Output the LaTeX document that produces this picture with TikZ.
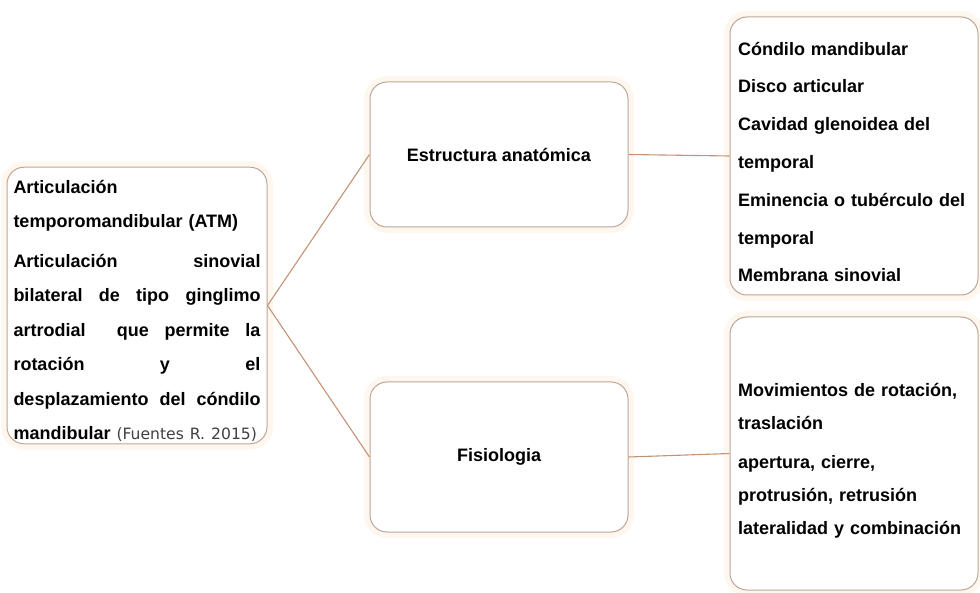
\documentclass[tikz,border=0pt]{standalone}
\usepackage{fontspec}
\setmainfont{Liberation Sans}
\newfontfamily\citefont{DejaVu Sans}

\definecolor{boxline}{RGB}{190,166,150}
\definecolor{linkline}{RGB}{196,146,116}
\definecolor{glow}{RGB}{254,247,240}

\newcommand{\jline}[1]{\leavevmode\hbox to 247pt{#1}}
\newcommand{\topgap}[1]{\rule{0pt}{#1}}

\begin{document}
\begin{tikzpicture}[x=1pt,y=-1pt,
    card/.style={draw=boxline,line width=1pt,fill=white,rounded corners=17pt,
      preaction={draw=glow,line width=12pt},
      font=\bfseries\fontsize{18}{22}\selectfont},
    link/.style={draw=linkline,line width=1.1pt}]
  \useasboundingbox (0,0) rectangle (980,593);

  \node[card,text width=247pt,inner xsep=6.5pt,inner ysep=2pt,minimum height=271pt,
    align=left,font=\bfseries\fontsize{18}{34.5}\selectfont] at (137,305.5) (atm)
    {\topgap{24pt}Articulación\\
     temporomandibular (ATM)\\[5pt]
     \jline{Articulación\hfill sinovial}\\
     \jline{bilateral\hfill de\hfill tipo\hfill ginglimo}\\
     \jline{artrodial\hfill\hfill que\hfill permite\hfill la}\\
     \jline{rotación\hfill y\hfill el}\\
     \jline{desplazamiento\hfill del\hfill cóndilo}\\
     mandibular {\mdseries\citefont\fontsize{15.6}{34.5}\selectfont\color{black!75}(Fuentes R. 2015)}};

  \node[card,minimum width=258pt,minimum height=145pt] at (499,154.5) (estructura)
    {Estructura anatómica};
  \node[card,minimum width=258pt,minimum height=150pt] at (499,457) (fisiologia)
    {Fisiologia};

  \node[card,text width=232pt,inner xsep=8pt,inner ysep=2pt,minimum height=278pt,
    align=left,font=\bfseries\fontsize{18}{37.8}\selectfont] at (854,156) (partes)
    {\topgap{25pt}Cóndilo mandibular\\
     Disco articular\\
     Cavidad glenoidea del\\
     temporal\\
     Eminencia o tubérculo del\\
     temporal\\
     Membrana sinovial};

  \node[card,text width=232pt,inner xsep=8pt,inner ysep=2pt,minimum height=273pt,
    align=left,font=\bfseries\fontsize{18}{33}\selectfont] at (854,453.5) (movimientos)
    {\topgap{28pt}Movimientos de rotación,\\
     traslación\\[6pt]
     apertura, cierre,\\
     protrusión, retrusión\\
     lateralidad y combinación};

  \draw[link] (atm.east) -- (estructura.west);
  \draw[link] (atm.east) -- (fisiologia.west);

  \draw[link] (estructura.east) -- (partes.west);
  \draw[link] (fisiologia.east) -- (movimientos.west);
\end{tikzpicture}
\end{document}
